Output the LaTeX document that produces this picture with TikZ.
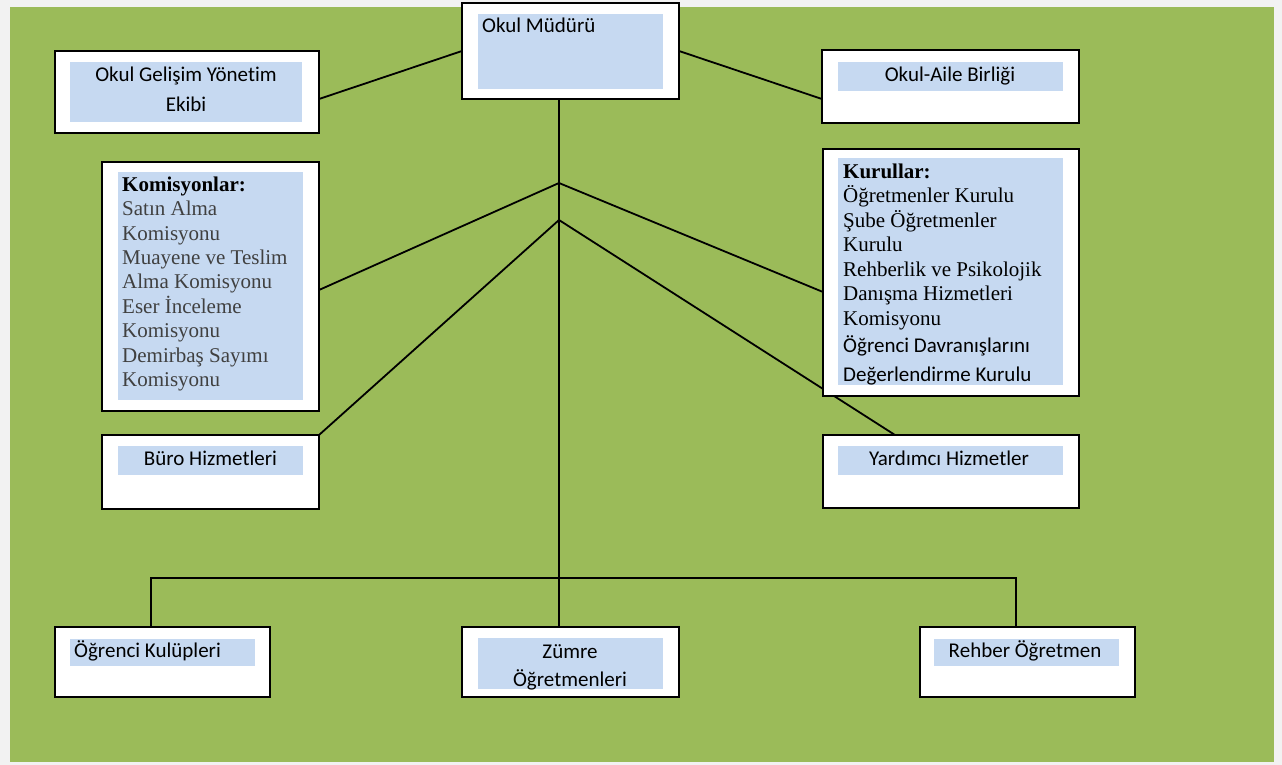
\documentclass[tikz,border=0pt]{standalone}
\usepackage{fontspec}
\setmainfont{Liberation Serif}
\newfontfamily\calib[Ligatures=NoCommon]{Carlito}
\usetikzlibrary{calc}
\definecolor{bggray}{HTML}{F2F2F2}
\definecolor{olivegreen}{HTML}{9BBB59}
\definecolor{paleblue}{HTML}{C6D9F1}
\definecolor{darkgraytext}{HTML}{404040}
\pgfdeclarelayer{backdrop}
\pgfdeclarelayer{links}
\pgfsetlayers{backdrop,links,main}
\tikzset{
  obox/.style={draw=black, line width=1.8pt, fill=white, inner sep=0pt, outer sep=0pt, anchor=north west},
  bbox/.style={fill=paleblue, inner sep=0pt, outer sep=0pt, anchor=north west},
  sanslbl/.style={font=\calib\fontsize{21}{29}\selectfont, inner sep=0pt, text=black},
  seriflbl/.style={font=\fontsize{21}{24.45}\selectfont, inner sep=0pt, align=left, anchor=base west},
  link/.style={draw=black, line width=1.8pt},
}
\begin{document}
\begin{tikzpicture}[x=1pt,y=-1pt]
\useasboundingbox (0,0) rectangle (1282,765);
\begin{pgfonlayer}{backdrop}
  \fill[bggray] (0,0) rectangle (1282,765);
  \fill[olivegreen] (10,7) rectangle (1274,762);
\end{pgfonlayer}

% outer boxes
\node[obox, minimum width=217, minimum height=96] (mudur) at (462,3) {};
\node[obox, minimum width=264, minimum height=82] (gelisim) at (55,51) {};
\node[obox, minimum width=257, minimum height=73] (aile) at (822,50) {};
\node[obox, minimum width=217, minimum height=249] (komis) at (102,162) {};
\node[obox, minimum width=256, minimum height=247] (kurul) at (823,149) {};
\node[obox, minimum width=217, minimum height=74] (buro) at (102,435) {};
\node[obox, minimum width=256, minimum height=73] (yard) at (823,435) {};
\node[obox, minimum width=215, minimum height=70] (kulup) at (55,627) {};
\node[obox, minimum width=217, minimum height=70] (zumre) at (462,627) {};
\node[obox, minimum width=215, minimum height=70] (rehber) at (920,627) {};

% inner blue panels
\node[bbox, minimum width=185, minimum height=75] (mudurB) at (478,14) {};
\node[bbox, minimum width=232, minimum height=60] (gelisimB) at (70,62) {};
\node[bbox, minimum width=225, minimum height=29] (aileB) at (838,62) {};
\node[bbox, minimum width=185, minimum height=228] (komisB) at (118,172) {};
\node[bbox, minimum width=225, minimum height=227] (kurulB) at (838,158) {};
\node[bbox, minimum width=185, minimum height=29] (buroB) at (118,446) {};
\node[bbox, minimum width=225, minimum height=29] (yardB) at (838,446) {};
\node[bbox, minimum width=185, minimum height=27] (kulupB) at (70,639) {};
\node[bbox, minimum width=185, minimum height=51] (zumreB) at (478,638) {};
\node[bbox, minimum width=185, minimum height=27] (rehberB) at (934,639) {};

% texts (multi-line nodes: base anchor = baseline of the last line)
\node[sanslbl, anchor=base west] (mudurT) at (482,33) {Okul Müdürü};
\node[sanslbl, align=center, anchor=base, font=\calib\fontsize{21}{30}\selectfont] (gelisimT) at (186,111.7) {Okul Gelişim Yönetim\\Ekibi};
\node[sanslbl, anchor=base] (aileT) at (950,81.7) {Okul-Aile Birliği};
\node[seriflbl, text=darkgraytext] (komisT) at (122,386.7) {\textcolor{black}{\textbf{Komisyonlar:}}\\Satın Alma\\Komisyonu\\Muayene ve Teslim\\Alma Komisyonu\\Eser İnceleme\\Komisyonu\\Demirbaş Sayımı\\Komisyonu};
\node[seriflbl, text=black] (kurulT) at (843,325) {\textbf{Kurullar:}\\Öğretmenler Kurulu\\Şube Öğretmenler\\Kurulu\\Rehberlik ve Psikolojik\\Danışma Hizmetleri\\Komisyonu};
\node[sanslbl, align=left, anchor=base west, font=\calib\fontsize{21}{29.4}\selectfont] (kurulC) at (843,381.7) {Öğrenci Davranışlarını\\Değerlendirme Kurulu};
\node[sanslbl, anchor=base] (buroT) at (210.5,465.7) {Büro Hizmetleri};
\node[sanslbl, anchor=base] (yardT) at (949,465.7) {Yardımcı Hizmetler};
\node[sanslbl, anchor=base west] (kulupT) at (74,657.3) {Öğrenci Kulüpleri};
\begin{scope}
  \clip (478,638) rectangle (663,689);
  \node[sanslbl, align=center, anchor=base, font=\calib\fontsize{21}{28.4}\selectfont] (zumreT) at (570,686.7) {Zümre\\Öğretmenleri};
\end{scope}
\node[sanslbl, anchor=base] (rehberT) at (1025,657.3) {Rehber Öğretmen};

% connectors
\coordinate (v1) at (559,183);
\coordinate (v2) at (559,220);
\coordinate (bus) at (559,578);
\begin{pgfonlayer}{links}
  \draw[link] (mudur.west) -- ([yshift=-7pt]gelisim.east);
  \draw[link] (mudur.east) -- ([yshift=-12.5pt]aile.west);
  \draw[link] (mudur.south -| bus) -- (bus);
  \draw[link] ([yshift=-3.5pt]komis.east) -- (v1) -- ([yshift=-19.5pt]kurul.west);
  \draw[link] (buro.north east) -- (v2) -- ([xshift=72pt]yard.north west);
  \draw[link] ([xshift=-11.5pt]kulup.north) |- (bus) -| ([xshift=-11.5pt]rehber.north);
  \draw[link] (bus) -- ([xshift=-11.5pt]zumre.north);
\end{pgfonlayer}
\end{tikzpicture}
\end{document}
